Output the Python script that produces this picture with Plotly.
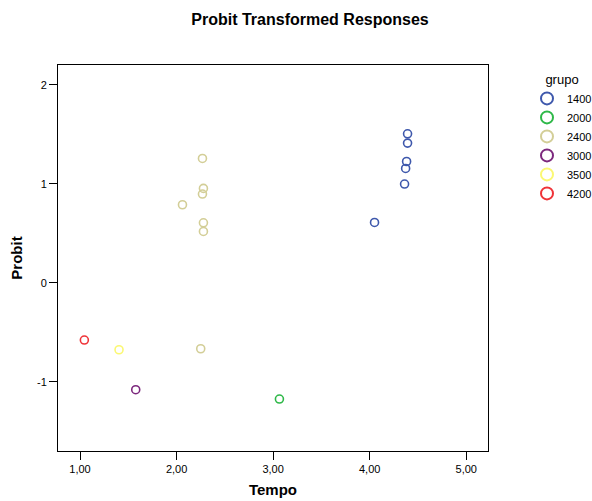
import plotly.graph_objects as go

groups = ["1400", "2000", "2400", "3000", "3500", "4200"]
colors = ["#3E58AC", "#2EB848", "#D3CE97", "#7C287D", "#FBF873", "#EF3338"]
tempo = {
    "1400": [4.392, 4.392, 4.382, 4.372, 4.361, 4.050],
    "2000": [3.065],
    "2400": [2.268, 2.278, 2.268, 2.061, 2.278, 2.278, 2.250],
    "3000": [1.577],
    "3500": [1.404],
    "4200": [1.045],
}
probit = {
    "1400": [1.505, 1.411, 1.225, 1.155, 0.997, 0.609],
    "2000": [-1.175],
    "2400": [1.256, 0.953, 0.896, 0.788, 0.606, 0.518, -0.667],
    "3000": [-1.081],
    "3500": [-0.677],
    "4200": [-0.579],
}
x_ticks = [1, 2, 3, 4, 5]
x_ticktext = ["1,00", "2,00", "3,00", "4,00", "5,00"]
y_ticks = [-1, 0, 1, 2]
y_ticktext = ["-1", "0", "1", "2"]

fig = go.Figure()
for g, c in zip(groups, colors):
    fig.add_trace(go.Scatter(
        x=tempo[g], y=probit[g], mode="markers", name=g,
        marker=dict(symbol="circle-open", size=8, color=c, line=dict(width=1.6, color=c)),
    ))

font = "Liberation Sans, Arial, sans-serif"
fig.update_layout(
    width=592, height=501,
    margin=dict(l=58, r=104, t=65, b=50, autoexpand=False),
    paper_bgcolor="white", plot_bgcolor="white",
    font=dict(family=font, size=11, color="black"),
    title=dict(text="<b>Probit Transformed Responses</b>", x=310/592, xref="container",
               xanchor="center", y=1-19/501, yref="container", yanchor="middle",
               font=dict(size=16, family=font, color="black")),
    showlegend=True,
    legend=dict(x=(527-58)/430, xref="paper", y=1 - (67-65)/386, yanchor="top", xanchor="left",
                title=dict(text="grupo", font=dict(size=13), side="top center"),
                itemsizing="constant",
                font=dict(size=11), tracegroupgap=0, bgcolor="rgba(0,0,0,0)"),
    xaxis=dict(range=[0.772, 5.225], tickvals=x_ticks, ticktext=x_ticktext,
               showgrid=False, zeroline=False, showline=True, mirror=True,
               linecolor="black", linewidth=1, ticks="outside", ticklen=8,
               tickcolor="black", tickwidth=1,
               title=dict(text="<b>Tempo</b>", font=dict(size=15), standoff=10)),
    yaxis=dict(range=[-1.70, 2.20], tickvals=y_ticks, ticktext=y_ticktext,
               showgrid=False, zeroline=False, showline=True, mirror=True,
               linecolor="black", linewidth=1, ticks="outside", ticklen=8,
               tickcolor="black", tickwidth=1,
               title=dict(text="<b>Probit</b>", font=dict(size=15), standoff=10)),
)
fig.write_html("out.html")
